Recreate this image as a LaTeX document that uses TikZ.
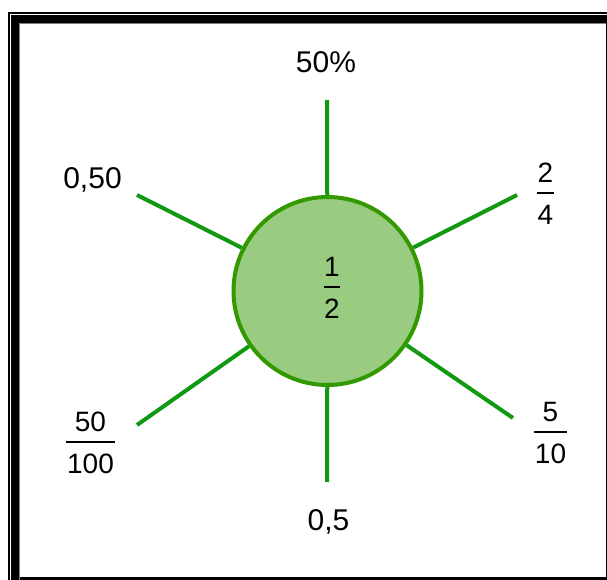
\documentclass[tikz,border=0pt]{standalone}
\usepackage{fontspec}
\setmainfont{Liberation Sans}
\usetikzlibrary{positioning}
\definecolor{spokegreen}{RGB}{17,153,17}
\definecolor{discedge}{RGB}{51,153,0}
\definecolor{discfill}{RGB}{153,204,128}
\definecolor{innergray}{RGB}{128,128,128}

% stacked fraction with a bar
\newcommand{\frc}[2]{{\setlength{\arrayrulewidth}{1.5pt}\renewcommand{\arraystretch}{0.5}%
  \begin{tabular}{@{\kern0.7pt}c@{\kern0.7pt}}\rule[-10pt]{0pt}{36pt}#1\\\hline\rule[-5pt]{0pt}{36pt}#2\end{tabular}}}

\begin{document}
\begin{tikzpicture}[
  x=1pt, y=-1pt,
  spoke/.style={line width=4pt, draw=spokegreen},
  disc/.style={circle, draw=discedge, fill=discfill, line width=4pt,
               minimum size=188pt, inner sep=0pt},
  lbl/.style={anchor=base, inner sep=0pt, font=\fontsize{30}{36}\selectfont},
  fraclbl/.style={inner sep=0pt, font=\fontsize{28}{33.6}\selectfont}
]
\useasboundingbox (0,0) rectangle (607,580);
\clip (0,0) rectangle (607,580);

% Frame
\draw[line width=2pt] (9,13.3) rectangle (640,620);
\draw[line width=8pt] (15,19.5) rectangle (610,581);
\draw[innergray, line width=1pt] (19.8,600) -- (19.8,24) -- (606,24);

% Centre disc
\node[disc] (disc) at (327.5,291) {};
\node[fraclbl] (half) at (332,287) {\frc{1}{2}};

% Spoke ends
\coordinate (ptop) at (327,100);
\coordinate (pbot) at (327,482);
\coordinate (pul) at (137,195);
\coordinate (pur) at (517,195);
\coordinate (pll) at (137,425);
\coordinate (plr) at (513,418);

% Spokes
\foreach \p in {ptop,pbot,pul,pur,pll,plr}
  \draw[spoke] (disc) -- (\p);

% Labels
\node[lbl] (pct) at (326,73) {50\%};
\node[lbl] (dectwo) at (92.5,188) {0,50};
\node[lbl] (decone) at (328.5,530) {0,5};
\node[fraclbl] (quarters) at (545.5,193) {\frc{2}{4}};
\node[fraclbl] (tenths) at (550.5,432) {\frc{5}{10}};
\node[fraclbl] (hundredths) at (90.5,442) {\frc{50}{100}};

\end{tikzpicture}
\end{document}
